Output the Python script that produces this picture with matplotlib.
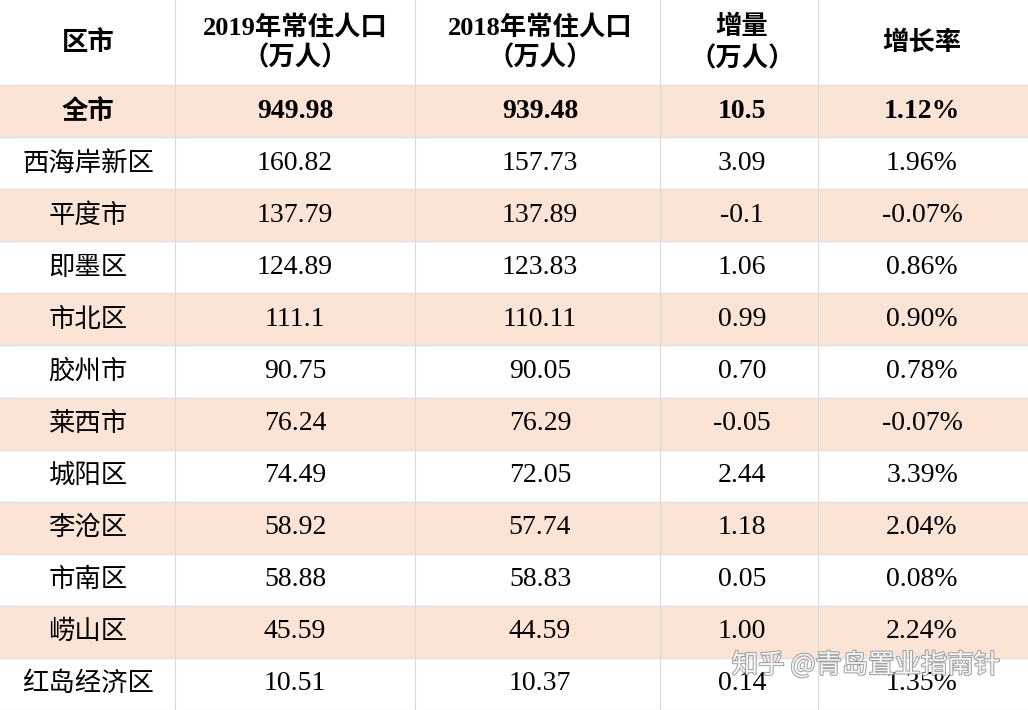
import matplotlib.pyplot as plt
from matplotlib.patches import Rectangle

headers = ['区市', '2019年常住人口\n（万人）', '2018年常住人口\n（万人）', '增量\n（万人）', '增长率']
regions = ['全市', '西海岸新区', '平度市', '即墨区', '市北区', '胶州市', '莱西市',
           '城阳区', '李沧区', '市南区', '崂山区', '红岛经济区']
pop2019 = ['949.98', '160.82', '137.79', '124.89', '111.1', '90.75', '76.24',
           '74.49', '58.92', '58.88', '45.59', '10.51']
pop2018 = ['939.48', '157.73', '137.89', '123.83', '110.11', '90.05', '76.29',
           '72.05', '57.74', '58.83', '44.59', '10.37']
increase = ['10.5', '3.09', '-0.1', '1.06', '0.99', '0.70', '-0.05',
            '2.44', '1.18', '0.05', '1.00', '0.14']
rate = ['1.12%', '1.96%', '-0.07%', '0.86%', '0.90%', '0.78%', '-0.07%',
        '3.39%', '2.04%', '0.08%', '2.24%', '1.35%']

W, H = 1028, 710
col_edges = [0, 175, 415, 660, 818, 1028]
col_centers = [88, 295, 540, 742, 922]
head_h = 85
row_h = (H - head_h) / len(regions)
pink = '#fbe3d6'
cjk = ['Noto Sans CJK SC', 'DejaVu Sans']
serif = ['Liberation Serif', 'Noto Sans CJK SC']

fig = plt.figure(figsize=(W / 100, H / 100), dpi=100)
ax = fig.add_axes([0, 0, 1, 1])
ax.set_xlim(0, W)
ax.set_ylim(H, 0)
ax.axis('off')

# header
for i, h in enumerate(headers):
    ax.text(col_centers[i], head_h / 2, h, ha='center', va='center', fontsize=19,
            fontweight='bold', family=serif if i in (1, 2) else cjk, linespacing=1.25)

for r in range(len(regions)):
    y0 = head_h + r * row_h
    if r % 2 == 0:
        ax.add_patch(Rectangle((0, y0), W, row_h, color=pink, zorder=0))
    yc = y0 + row_h / 2
    bold = 'bold' if r == 0 else 'normal'
    ax.text(col_centers[0], yc, regions[r], ha='center', va='center', fontsize=19,
            family=cjk, fontweight=bold)
    for c, vals in enumerate([pop2019, pop2018, increase, rate], start=1):
        ax.text(col_centers[c], yc, vals[r], ha='center', va='center', fontsize=20,
                family=serif, fontweight=bold)

# grid lines
for x in col_edges[1:-1]:
    ax.plot([x, x], [0, H], color='#d9d9d9', lw=0.8, zorder=1)
for r in range(len(regions) + 1):
    y = head_h + r * row_h
    ax.plot([0, W], [y, y], color='#e0e0e0', lw=0.8, zorder=1)

# watermark
ax.text(1000, 665, '知乎 @青岛置业指南针', ha='right', va='center', fontsize=19,
        family=cjk, color='white', alpha=0.9, zorder=3,
        path_effects=[__import__('matplotlib.patheffects').patheffects.withStroke(linewidth=1.5, foreground='#999999')])

fig.savefig('out.png', dpi=100)
